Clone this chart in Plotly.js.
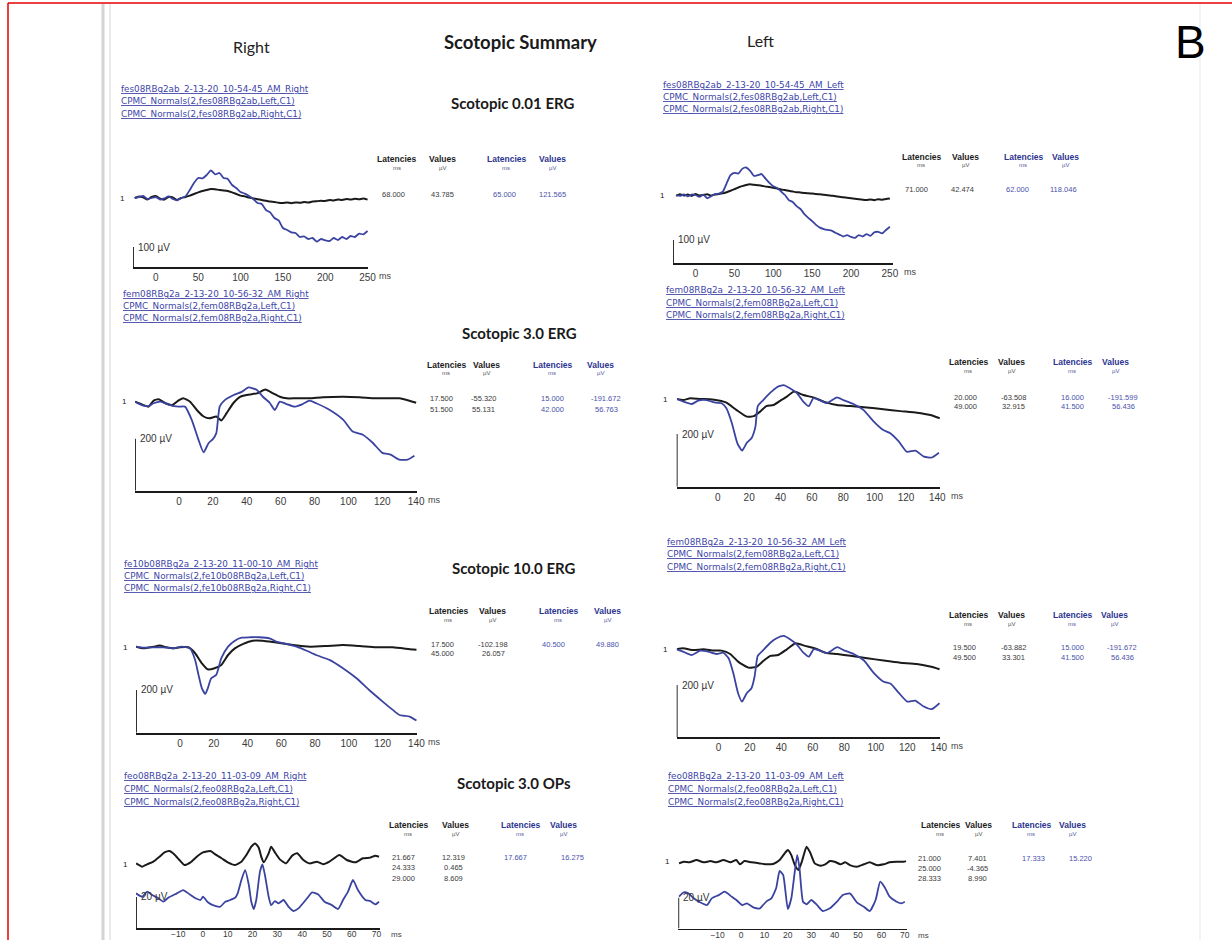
<!DOCTYPE html>
<html><head><meta charset="utf-8">
<script src="https://cdn.plot.ly/plotly-3.0.1.min.js"></script>
<style>html,body{margin:0;padding:0;background:#fff}#chart{width:1232px;height:940px}</style>
</head><body><div id="chart"></div>
<script>
// ================= DATA (ms / µV) =================
const headerTexts = ['Right', 'Scotopic Summary', 'Left', 'B'];
const panelTitles = ['Scotopic 0.01 ERG', 'Scotopic 3.0 ERG', 'Scotopic 10.0 ERG', 'Scotopic 3.0 OPs'];
const ticks_001 = [0, 50, 100, 150, 200, 250];
const ticks_erg = [0, 20, 40, 60, 80, 100, 120, 140];
const ticks_ops = [-10, 0, 10, 20, 30, 40, 50, 60, 70];
const tableHead = ['Latencies', 'Values', 'Latencies', 'Values'];
const tableUnits = ['ms', 'µV', 'ms', 'µV'];

// Scotopic 0.01 ERG – Right
const r001_ms = [-25,-20,-15,-10,-5,0,5,10,15,20,25,30,35,40,45,50,55,60,65,70,75,80,85,90,95,100,105,110,115,120,125,130,135,140,145,150,155,160,165,170,175,180,185,190,195,200,205,210,215,220,225,230,235,240,245,250];
const r001_black = [0,8,3,-8,5,10,-3,-8,5,3,-10,0,5,12,20,28,35,40,45,44,40,38,35,28,20,12,8,2,-2,-6,-10,-14,-18,-20,-24,-25,-22,-26,-22,-24,-20,-22,-18,-16,-14,-15,-10,-12,-8,-10,-5,-8,-4,-6,-3,-8];
const r001_blue = [0,5,10,-5,0,5,-8,-2,8,-5,-12,0,8,40,75,100,98,115,138,118,125,100,95,65,50,30,22,10,-5,-25,-30,-60,-72,-100,-112,-150,-160,-172,-175,-195,-192,-205,-200,-218,-205,-212,-215,-200,-210,-195,-205,-190,-195,-178,-182,-165];
// Scotopic 0.01 ERG – Left
const l001_ms = [-25,-20,-15,-10,-5,0,5,10,15,20,25,30,35,40,45,50,55,60,65,70,75,80,85,90,95,100,105,110,115,120,125,130,135,140,145,150,155,160,165,170,175,180,185,190,195,200,205,210,215,220,225,230,235,240,245,250];
const l001_black = [-4,3,-2,2,-4,4,-2,0,3,-2,2,4,7,12,18,25,32,38,43,46,44,42,40,36,34,31,28,24,21,18,15,12,11,9,7,6,4,3,1,-1,-3,-5,-8,-10,-12,-14,-16,-18,-20,-21,-19,-22,-18,-20,-17,-15];
const l001_blue = [0,-4,3,-6,2,0,-8,2,-14,-5,4,6,14,50,85,95,92,112,118,105,82,85,90,70,52,38,30,15,0,-22,-30,-48,-60,-82,-98,-112,-128,-140,-146,-150,-153,-162,-170,-178,-172,-180,-184,-172,-178,-168,-175,-160,-158,-165,-150,-136];

// Scotopic 3.0 ERG – Right
const r30_black_ms = [-26,-21,-18,-15,-12,-8,-4,0,2.5,6.5,10.5,14.5,18,22,25,28,32,36,40,46,51,55.5,59.5,63.5,69,77,85,97,106.5,116,130,136,140];
const r30_black = [0,-13,-19,4,9,-6,-13,6,13,0,-32,-57,-64,-57,-72,-45,-6,19,26,32,47,32,19,13,13,13,17,19,17,13,13,4,-4];
const r30_blue_ms = [-26,-22,-18,-15,-11,-7,-3,0,3.5,7.5,11.5,14.5,17.5,20,22,24,27,32,37,41,46,49.5,53.5,56.5,59.5,63.5,68,73,77,81,89,97,102.5,108.5,114.5,120,125,130,135,139];
const r30_blue = [0,-13,-17,-6,0,-9,-17,-19,-19,-70,-147,-195,-159,-144,-121,-19,6,25,38,55,45,19,-4,-32,0,-9,-19,-9,4,-6,-32,-70,-115,-127,-159,-197,-204,-223,-223,-208];
// Scotopic 3.0 ERG – Left
const l30_black_ms = [-26,-22,-17.5,-11,-5,0.5,5.5,12,18.5,23,27,31,35.5,40,44,48.5,54.5,61,67.5,76,84.5,95,105.5,116.5,127,135.5,141.5];
const l30_black = [0,-4,3,0,-1,-6,-14,-42,-67,-65,-48,-27,-23,-6,9,28,15,6,-10,-23,-27,-32,-39,-46,-52,-61,-73];
const l30_blue_ms = [-26,-22,-16.5,-12.5,-7,-1.5,2.5,5.5,9,12.5,15.5,18.5,21.5,24,25.5,29,33.5,37.5,42,46,50.5,54.5,58,61,65.5,69.5,76,80,86.5,93,99.5,105.5,110,115.5,120.5,126,131.5,136.5,141];
const l30_blue = [0,-10,-19,-6,-4,-14,-16,-35,-92,-168,-196,-166,-149,-105,-27,-4,24,44,53,41,22,-10,-27,3,-6,-16,6,-4,-19,-42,-86,-118,-130,-162,-200,-196,-219,-222,-204];

// Scotopic 10.0 ERG – Right
const r10_black_ms = [-26,-21.5,-15.5,-12,-8,-4,0,5,9,13,16.5,20.5,24.5,28.5,32.5,37.5,43,49,57,67,77,86.5,96.5,106.5,116,126,136,140];
const r10_black = [3,-5,3,8,0,-5,0,0,-28,-75,-103,-98,-83,-36,-5,16,31,31,22,11,3,6,11,6,0,0,-9,-12];
const r10_blue_ms = [-26,-21.5,-15.5,-10,-4,1,6,9,11,13,15,16.5,18.5,21.5,24.5,28.5,32.5,36.5,41.5,47,53,57,63,69,75,80.5,88.5,96.5,104.5,112,120,126,130,136,140];
const r10_blue = [3,-2,0,0,-5,3,-5,-59,-129,-192,-218,-192,-145,-129,-51,3,31,45,47,47,42,27,16,3,-16,-36,-59,-98,-145,-200,-254,-293,-317,-324,-343];
// Scotopic 10.0 ERG – Left
const l10_black_ms = [-26.5,-22.5,-16,-9.5,-3,2,7.5,12.5,19,24.5,28.5,33,38,43.5,49,55,61.5,68,75.5,84,94.5,105,115.5,126,134.5,140.5];
const l10_black = [0,4,-3,0,-5,-5,-18,-47,-70,-66,-45,-25,-22,0,23,13,3,-13,-18,-25,-34,-43,-51,-56,-66,-76];
const l10_blue_ms = [-26.5,-22.5,-17,-11.5,-6.5,-1,3,6.5,9.5,12.5,15,18,21,23,25,28.5,33,37,41.5,45.5,50,54,57.5,60.5,64.5,69,75.5,79.5,86,92.5,98.5,105,109.5,114.5,120,125,130.5,135.5,140.5];
const l10_blue = [0,-9,-22,-5,-9,-18,-13,-34,-92,-168,-200,-168,-149,-104,-25,-3,25,42,51,38,17,-13,-28,0,-5,-15,8,-3,-18,-43,-89,-124,-132,-166,-200,-196,-219,-229,-206];

// Scotopic 3.0 OPs – Right
const rops_black_ms = [-27,-24.5,-22.5,-20,-17.5,-15.5,-13.5,-11.5,-9.5,-7.5,-5,-2.5,0,3,5,7.5,10,13,15.5,17.5,19.5,21,22.5,23.5,24.5,26.5,27.5,29,31,33.5,36,38,40.5,43,46,48.5,51,55,58,61.5,64.5,67.5,69.5,71];
const rops_black = [0.4,-1.7,-0.2,1.5,4.7,7.5,8.4,6.2,2.6,-0.6,1.1,4.7,7.5,8.4,6.2,3.7,1.1,-0.6,1.5,5.8,11.2,13.3,10.5,4.7,1.1,6.9,11.2,7.5,3.0,0.4,5.4,6.9,2.6,0.4,1.5,-0.2,1.5,5.8,2.6,1.1,3.7,4.1,5.4,4.7];
const rops_blue_ms = [-27,-24.5,-22.5,-20.5,-18,-16,-14,-10.5,-8,-5,-3,-1,0,2,4,7,9,11,13,14,15.5,17,18.5,19.5,20.5,21.5,23,24,25,26.5,27.5,29,30.5,32.5,34.5,36.5,38.5,42,44,46.5,49,52,54.5,56.5,58.5,60.5,62.5,65.5,67.5,69.5,71];
const rops_blue = [5.4,3.2,6.5,4.3,2.2,0,2.6,5.4,7.5,4.3,2.2,1.1,3.2,-0.4,-2.2,-3.2,0,1.1,2.6,5.4,14,20.4,10.8,0,-4.7,1.1,19.4,24.1,17.2,3.2,-2.2,0.4,-1.1,1.1,-3.2,-6,-4.3,2.2,6,4.7,0,-2.2,-4.7,1.1,6.5,14,7.5,1.1,0.4,-1.7,0];
// Scotopic 3.0 OPs – Left
const lops_black_ms = [-26.5,-24.5,-22,-19,-16,-13,-10.5,-7.5,-4.5,-2,-0.5,1.5,4.5,8,11,14,16.5,19,20,21.5,23,24.5,26,28,29.5,31.5,34,36,38,40,42.5,44.5,46.5,49.5,52.5,55,58,61,63.5,66.5,69.5,70.5];
const lops_black = [-1.1,0,-0.4,1.1,-0.4,0.4,-0.4,1.1,-0.4,1.1,-1.7,0.4,-0.4,-1.1,-1.7,-1.3,1.1,6.1,7.6,4.3,-2.2,-5.4,0,9.8,6.1,-1.1,-2.6,-1.7,0.4,0,-1.7,-0.4,-2.2,-3.3,-1.7,-0.4,-2.2,-1.7,-0.4,0,0,0.4];
const lops_blue_ms = [-26.5,-24.5,-22.5,-20.5,-17.5,-14.5,-12.5,-9.5,-7,-4,-2,0.5,2.5,5.5,8,11,13,15,16.5,18,19,20,21.5,24,25,26.5,28,30,32.5,35,38,41,43.5,46.5,49.5,52.5,55,57.5,59.5,61.5,63.5,66.5,68.5,70];
const lops_blue = [3.3,6.1,5.4,2.6,-0.4,-2.2,2.2,4.3,6.5,3.3,1.1,-2.2,-1.1,-3.9,-4.3,0.4,2.2,8.7,20,17.4,6.5,-4.8,2.2,30.4,21.7,0,-1.7,1.1,-2.2,-6.1,-4.3,0,4.3,5.4,-0.4,-3.3,-6.1,1.1,13,9.1,3.3,0,-1.1,0];

// File link labels
const files_r001 = ['fes08RBg2ab_2-13-20_10-54-45_AM_Right','CPMC_Normals(2,fes08RBg2ab,Left,C1)','CPMC_Normals(2,fes08RBg2ab,Right,C1)'];
const files_l001 = ['fes08RBg2ab_2-13-20_10-54-45_AM_Left','CPMC_Normals(2,fes08RBg2ab,Left,C1)','CPMC_Normals(2,fes08RBg2ab,Right,C1)'];
const files_r30 = ['fem08RBg2a_2-13-20_10-56-32_AM_Right','CPMC_Normals(2,fem08RBg2a,Left,C1)','CPMC_Normals(2,fem08RBg2a,Right,C1)'];
const files_l30 = ['fem08RBg2a_2-13-20_10-56-32_AM_Left','CPMC_Normals(2,fem08RBg2a,Left,C1)','CPMC_Normals(2,fem08RBg2a,Right,C1)'];
const files_r10 = ['fe10b08RBg2a_2-13-20_11-00-10_AM_Right','CPMC_Normals(2,fe10b08RBg2a,Left,C1)','CPMC_Normals(2,fe10b08RBg2a,Right,C1)'];
const files_l10 = ['fem08RBg2a_2-13-20_10-56-32_AM_Left','CPMC_Normals(2,fem08RBg2a,Left,C1)','CPMC_Normals(2,fem08RBg2a,Right,C1)'];
const files_rops = ['feo08RBg2a_2-13-20_11-03-09_AM_Right','CPMC_Normals(2,feo08RBg2a,Left,C1)','CPMC_Normals(2,feo08RBg2a,Right,C1)'];
const files_lops = ['feo08RBg2a_2-13-20_11-03-09_AM_Left','CPMC_Normals(2,feo08RBg2a,Left,C1)','CPMC_Normals(2,feo08RBg2a,Right,C1)'];

// Tables: [black latencies, black values, blue latencies, blue values]
const tbl_r001 = [['68.000'],['43.785'],['65.000'],['121.565']];
const tbl_l001 = [['71.000'],['42.474'],['62.000'],['118.046']];
const tbl_r30 = [['17.500','51.500'],['-55.320','55.131'],['15.000','42.000'],['-191.672','56.763']];
const tbl_l30 = [['20.000','49.000'],['-63.508','32.915'],['16.000','41.500'],['-191.599','56.436']];
const tbl_r10 = [['17.500','45.000'],['-102.198','26.057'],['40.500'],['49.880']];
const tbl_l10 = [['19.500','49.500'],['-63.882','33.301'],['15.000','41.500'],['-191.672','56.436']];
const tbl_rops = [['21.667','24.333','29.000'],['12.319','0.465','8.609'],['17.667'],['16.275']];
const tbl_lops = [['21.000','25.000','28.333'],['7.401','-4.365','8.990'],['17.333'],['15.220']];

// ================= LAYOUT (pixel geometry) =================
const W = 1232, H = 940;
const fx = p => p / W, fy = p => 1 - p / H;
const BLACK = '#1a1a1a', BLUE = '#3a44a0', LINK = '#4046a8';

const panels = [
  {xs:[133,368], xr:[-27,250.5], yb:267, y0:198, yt:140, upp:5, bar:100, ticks:ticks_001,
   black:[r001_ms,r001_black], blue:[r001_ms,r001_blue], files:files_r001, fX:120, fY:89, fD:12.5, tbl:tbl_r001,
   hx:[397,442,506,552], hy:159, vx:[393,442,504,552], vy:194, dy:11},
  {xs:[673,893], xr:[-29,254], yb:263.3, y0:195, yt:140, upp:4.29, bar:100, ticks:ticks_001,
   black:[l001_ms,l001_black], blue:[l001_ms,l001_blue], files:files_l001, fX:662, fY:85, fD:12.2, tbl:tbl_l001,
   hx:[921,965,1023,1065], hy:157, vx:[917,963,1017,1063], vy:189, dy:11},
  {xs:[135,417], xr:[-26,140.5], yb:490.7, y0:401.7, yt:350, upp:3.85, bar:200, ticks:ticks_erg,
   black:[r30_black_ms,r30_black], blue:[r30_blue_ms,r30_blue], files:files_r30, fX:122, fY:294, fD:12.2, tbl:tbl_r30,
   hx:[446,486,552,600], hy:365, vx:[441,483,552,606], vy:398, dy:11.5},
  {xs:[676.7,940], xr:[-26.2,141.7], yb:486.7, y0:399, yt:350, upp:3.795, bar:200, ticks:ticks_erg,
   black:[l30_black_ms,l30_black], blue:[l30_blue_ms,l30_blue], files:files_l30, fX:665, fY:290, fD:12.5, tbl:tbl_l30,
   hx:[968,1011,1072,1115], hy:362, vx:[965,1013,1072,1123], vy:397, dy:10},
  {xs:[136,417.3], xr:[-26,140.5], yb:732.7, y0:647.3, yt:600, upp:4.68, bar:200, ticks:ticks_erg,
   black:[r10_black_ms,r10_black], blue:[r10_blue_ms,r10_blue], files:files_r10, fX:123, fY:564, fD:12.2, tbl:tbl_r10,
   hx:[448,492,558,607], hy:611, vx:[443,493,553,607], vy:644, dy:9.5},
  {xs:[676.7,940], xr:[-26.5,140.8], yb:737.3, y0:649.3, yt:600, upp:3.824, bar:200, ticks:ticks_erg,
   black:[l10_black_ms,l10_black], blue:[l10_blue_ms,l10_blue], files:files_l10, fX:666, fY:542, fD:12.3, tbl:tbl_l10,
   hx:[968,1011,1072,1114], hy:615, vx:[964,1013,1072,1122], vy:647, dy:10},
  {xs:[136,380], xr:[-27,71.4], yb:928, y0:864, y0b:901.7, yt:800, upp:0.645, bar:20, ticks:ticks_ops, tfs:8.5, tso:-3,
   black:[rops_black_ms,rops_black], blue:[rops_blue_ms,rops_blue], files:files_rops, fX:123, fY:776, fD:13, tbl:tbl_rops,
   hx:[408,455,520,563], hy:825, vx:[403,453,515,572], vy:857, dy:10.8},
  {xs:[678.3,906.7], xr:[-26.8,70.8], yb:928.5, y0:861.7, y0b:901.7, yt:800, upp:0.651, bar:20, ticks:ticks_ops, tfs:8.5, tso:-3,
   black:[lops_black_ms,lops_black], blue:[lops_blue_ms,lops_blue], files:files_lops, fX:667, fY:776, fD:13, tbl:tbl_lops,
   hx:[940,979,1031,1072], hy:825, vx:[929,977,1033,1080], vy:858, dy:10}
];

const data = [];
const layout = {
  width: W, height: H, margin:{l:0,r:0,t:0,b:0}, paper_bgcolor:'#fff', plot_bgcolor:'rgba(0,0,0,0)',
  showlegend:false, annotations:[], shapes:[], font:{family:'Liberation Sans, Arial, sans-serif'}
};

function ann(text, px, py, o) {
  return Object.assign({xref:'paper', yref:'paper', x:fx(px), y:fy(py), text:text, showarrow:false,
    xanchor:'center', yanchor:'middle', borderpad:0, font:{size:10, color:'#222'}}, o || {});
}

let extraY = 9;
panels.forEach((p, i) => {
  const n = i + 1;
  const xa = 'x' + n, ya = 'y' + n;
  const yr = [-(p.yb - p.y0) * p.upp, (p.y0 - p.yt) * p.upp];
  const tfs = p.tfs || 10;
  layout['xaxis' + n] = {domain:[fx(p.xs[0]), fx(p.xs[1])], range:p.xr, anchor:ya, showgrid:false, zeroline:false,
    showline:true, linecolor:BLACK, linewidth:1.8, ticks:'', tickvals:p.ticks, fixedrange:true,
    ticklabelstandoff:p.tso || 0,
    tickfont:{family:'Liberation Sans, Arial, sans-serif', size:tfs, color:'#3a3a3a'}};
  layout['yaxis' + n] = {domain:[fy(p.yb), fy(p.yt)], range:yr, anchor:xa, visible:false, fixedrange:true};
  let blueAxis = ya;
  if (p.y0b !== undefined) {
    const nb = extraY++;
    blueAxis = 'y' + nb;
    layout['yaxis' + nb] = {domain:[fy(p.yb), fy(p.yt)], range:[-(p.yb - p.y0b) * p.upp, (p.y0b - p.yt) * p.upp],
      anchor:xa, overlaying:ya, visible:false, fixedrange:true};
  }
  data.push({type:'scatter', mode:'lines', x:p.black[0], y:p.black[1], xaxis:xa, yaxis:ya,
    line:{color:BLACK, width:2, shape:'spline', smoothing:0.5}, hoverinfo:'skip'});
  data.push({type:'scatter', mode:'lines', x:p.blue[0], y:p.blue[1], xaxis:xa, yaxis:blueAxis,
    line:{color:BLUE, width:1.8, shape:'spline', smoothing:0.5}, hoverinfo:'skip'});
  // scale bar
  layout.shapes.push({type:'line', xref:xa, yref:ya, x0:p.xr[0], x1:p.xr[0], y0:yr[0], y1:yr[0] + p.bar,
    line:{color:BLACK, width:1.8}});
  layout.annotations.push({xref:xa, yref:ya, x:p.xr[0], y:yr[0] + p.bar, xanchor:'left', yanchor:'middle',
    xshift:3, text:p.bar + ' µV', showarrow:false, font:{size:10, color:'#333'}});
  // ms label
  layout.annotations.push({xref:xa, yref:ya, x:p.xr[1], y:yr[0], xanchor:'left', yanchor:'middle',
    xshift:9, yshift:p.tso ? -6.5 : -9, text:'ms', showarrow:false, font:{size:p.tso ? 8 : 9, color:'#444'}});
  // channel "1"
  layout.annotations.push({xref:xa, yref:ya, x:p.xr[0], y:0, xanchor:'center', yanchor:'middle',
    xshift:-11, text:'1', showarrow:false, font:{size:8, color:'#222'}});
  // file links
  p.files.forEach((t, k) => layout.annotations.push(ann('<span style="text-decoration:underline">' + t + '</span>',
    p.fX, p.fY + k * p.fD, {xanchor:'left', font:{family:'DejaVu Sans, sans-serif', size:8.8, color:LINK}})));
  // table
  for (let c = 0; c < 4; c++) {
    const col = c < 2 ? '#1c1c1c' : '#2d3590';
    layout.annotations.push(ann('<b>' + tableHead[c] + '</b>', p.hx[c], p.hy, {font:{family:'Liberation Sans, Arial, sans-serif', size:8.5, color:col}}));
    layout.annotations.push(ann(tableUnits[c], p.hx[c], p.hy + 8.5, {font:{size:6, color:c < 2 ? '#555' : '#555aa0'}}));
    p.tbl[c].forEach((v, r) => layout.annotations.push(ann(v, p.vx[c], p.vy + r * p.dy,
      {font:{size:7.5, color:c < 2 ? '#3a3a3a' : '#4a52aa'}})));
  }
});

// titles
const titleFont = {family:'Lato, sans-serif', size:15, color:'#1a1a1a'};
[[513,103],[519,333],[514,568],[514,783]].forEach((pos, k) =>
  layout.annotations.push(ann('<b>' + panelTitles[k] + '</b>', pos[0], pos[1], {font:titleFont})));
layout.annotations.push(ann(headerTexts[0], 251, 46, {font:{family:'Lato, sans-serif', size:16, color:'#222'}}));
layout.annotations.push(ann('<b>' + headerTexts[1] + '</b>', 520, 42, {font:{family:'Lato, sans-serif', size:18.5, color:'#1a1a1a'}}));
layout.annotations.push(ann(headerTexts[2], 760, 41, {font:{family:'Lato, sans-serif', size:16, color:'#222'}}));
layout.annotations.push(ann(headerTexts[3], 1190, 42, {font:{family:'Liberation Sans, Arial, sans-serif', size:46, color:'#000'}}));

// page edges and frame
layout.shapes.push({type:'line', xref:'paper', yref:'paper', x0:fx(103), x1:fx(103), y0:0, y1:fy(4), line:{color:'#d4d4d4', width:3}});
layout.shapes.push({type:'line', xref:'paper', yref:'paper', x0:fx(110), x1:fx(110), y0:0, y1:fy(4), line:{color:'#dcdcdc', width:1.2}});
layout.shapes.push({type:'line', xref:'paper', yref:'paper', x0:fx(1200), x1:fx(1200), y0:0, y1:fy(4), line:{color:'#f0f0f0', width:1.5}});
layout.shapes.push({type:'line', xref:'paper', yref:'paper', x0:fx(8), x1:1, y0:fy(3), y1:fy(3), line:{color:'#e60000', width:1.5}});
layout.shapes.push({type:'line', xref:'paper', yref:'paper', x0:fx(8), x1:fx(8), y0:0, y1:fy(3), line:{color:'#e60000', width:1.5}});

Plotly.newPlot('chart', data, layout, {displayModeBar:false, staticPlot:true});
</script>
</body></html>
